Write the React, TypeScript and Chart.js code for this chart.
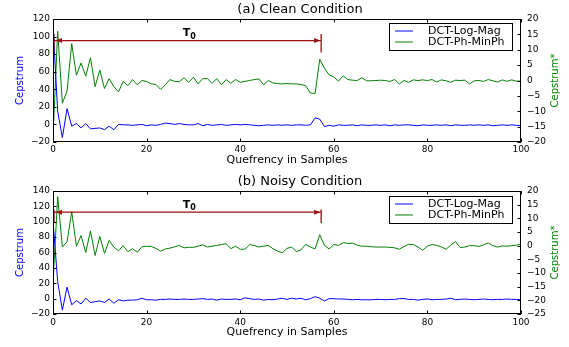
import React, { useEffect, useRef } from 'react';
import { Chart, registerables } from 'chart.js';

Chart.register(...registerables);

// ---------------- data ----------------
const quefrency = Array.from({ length: 101 }, (_, i) => i);
const xTicks = [0, 20, 40, 60, 80, 100];
const seriesNames = ['DCT-Log-Mag', 'DCT-Ph-MinPh'];
const panelTitles = ['(a) Clean Condition', '(b) Noisy Condition'];
const xLabel = 'Quefrency in Samples';
const leftLabel = 'Cepstrum';
const rightLabel = 'Cepstrum*';
const t0Sample = 57.3;

// (a) clean — left axis (Cepstrum)
const cleanLogMag = [
  112, 15, -15, 18, -2, 1, -4, 1, -5, -4.5,
  -4, -6, -2, -6, 0, -0.5, -0.5, -1, -0.5, 0,
  -1.5, -0.5, -1, 0, 1.5, 1, 0, 1, 0, -0.5,
  -0.5, 1, -1.5, 0, -1, -0.5, 0, -1, -0.5, 0,
  -0.5, 0, -0.5, -1, -1.5, -1, -0.5, -1, -0.5, -1,
  -0.5, -1, -0.5, -0.5, -1, -0.5, 7.5, 6, -2.5, -1,
  -2, -0.5, -1, -1, -0.5, -1.5, -0.5, -1, -1, -0.5,
  -1, -0.5, -1.5, -0.5, -1, -0.5, -0.5, -1, -1.5, -0.5,
  -1, -1, -0.5, -1, -0.5, -1.5, -0.5, -1, -1, -0.5,
  -1, -0.5, -1, -0.5, -1.5, -1, -0.5, -1, -0.5, -1,
  -1.5,
];
// (a) clean — right axis (Cepstrum*)
const cleanMinPh = [
  -18.5, 16, -7.4, -3.4, 12, 1.7, 5.7, 1.4, 7.4, -2,
  3.4, -2.6, 0.6, -2, -3.7, -0.3, -1.7, 0.3, -1.4, 0,
  -0.3, -1.1, -1.3, -2.9, -1.4, 0.3, -0.3, -0.4, 0.9, -0.6,
  1.1, -1.1, 0.6, 0.6, -0.9, 0.6, -1.4, 0.3, -0.9, 0.3,
  -0.6, -0.3, 0, 0.3, 0.5, -1.4, 0, -0.8, -1, -1.1,
  -1, -1.1, -1.1, -1.3, -1.7, -4.1, -4.2, 6.9, 4, 1.8,
  1.2, -0.2, 1.5, 0.3, 0.1, 0, 0.9, -0.1, -0.1, 0,
  0.1, 0, -0.3, 0.3, -1.1, 0, -0.6, 0.2, 0, 0.2,
  0, 0.3, -0.5, 0.2, -0.1, -0.6, 0.1, 0, 0.1, -1.1,
  -0.1, 0, -0.3, 0.3, -0.1, -0.5, 0.2, -0.3, 0.2, -0.2,
  -0.2,
];
// (b) noisy — left axis (Cepstrum)
const noisyLogMag = [
  102, 22, -15, 15, -8, -2.5, -7, 0.5, -5, -4,
  -3, -5, -0.5, -6, -1.5, -3, -2, -2, -1.5, 0.5,
  -1.5, -1.5, -2, -1, -1, -0.5, -1, -1, -0.5, -1,
  -1, -0.5, 0, -1, -0.5, -2, -0.5, -1, -1, -0.5,
  -1.5, 1, 0, -1, -0.5, -2, -1, -1.5, -0.5, 0.5,
  -1, 0.5, -0.5, 0.5, -1.5, 0, 2.5, 0.5, -3, 0,
  0, -0.5, -0.5, -1, -1.5, -1, -1.5, -1.5, -1.5, -1,
  -1, -1.5, -1, -1, 0, 0, -1, -1, -2, -1,
  -0.5, -1.5, -1, -1, -0.5, 0.5, -1.5, -1, -0.5, -1,
  -1.5, -1, -0.5, -1, -1.5, -1, -1, -0.5, -1, -1,
  -1.5,
];
// (b) noisy — right axis (Cepstrum*)
const noisyMinPh = [
  -14, 18, -0.5, 1.4, 12.4, -0.2, 3.7, -2.5, 5.4, -3.6,
  3.4, -2.8, 1.9, -0.5, -1.9, 0, -2.2, -1.1, -2.4, -0.4,
  -0.2, -0.3, -1, -2, -1.2, -0.9, -0.4, 0.1, -0.8, -0.6,
  -0.6, -0.2, 0.3, -0.5, -0.2, 0.1, 0.4, 0.7, -1.1, -0.2,
  -1.3, -1.3, 0.35, 0.1, -0.5, -0.2, 0.1, -1.1, -2, -2.6,
  -1, -0.5, -2.2, -1.5, 0.5, -0.5, -1.2, 4, 0.1, -1.2,
  0.4, 0.1, 1.1, 0.8, 0.9, 0.2, -0.2, -0.2, -0.4, -0.5,
  -0.5, -0.5, -0.6, -0.8, -1.3, -0.3, 0.5, 0.4, -0.5, -1.7,
  -0.2, 0.4, 0.1, -0.5, -1.3, 0.2, 1.5, -0.7, -0.5, 0,
  0, -0.3, 0.3, 1, 0, -0.5, -0.1, -0.2, 0, 0.2,
  0.5,
];

// ---------------- layout / style ----------------
const FONT = '"DejaVu Sans"';
const BLUE = '#0000ff';
const GREEN = '#008000';
const RED = '#9a1010';
const W = 569;

type Panel = {
  title: string;
  logMag: number[];
  minPh: number[];
  leftMin: number; leftMax: number; leftStep: number;
  rightMin: number; rightMax: number; rightStep: number;
  top: number; height: number;
  areaTop: number; areaBottom: number;
  titleY: number; xLabelY: number; legendTop: number;
  t0Level: number; t0Bar: [number, number];
  xTickPad: number;
};

const panels: Panel[] = [
  {
    title: panelTitles[0], logMag: cleanLogMag, minPh: cleanMinPh,
    leftMin: -20, leftMax: 120, leftStep: 20,
    rightMin: -20, rightMax: 20, rightStep: 5,
    top: 0, height: 173, areaTop: 19, areaBottom: 142,
    titleY: 10, xLabelY: 160, legendTop: 23,
    t0Level: 95.5, t0Bar: [82, 103], xTickPad: 2,
  },
  {
    title: panelTitles[1], logMag: noisyLogMag, minPh: noisyMinPh,
    leftMin: -20, leftMax: 140, leftStep: 20,
    rightMin: -25, rightMax: 20, rightStep: 5,
    top: 173, height: 174, areaTop: 18, areaBottom: 141,
    titleY: 9, xLabelY: 159, legendTop: 23,
    t0Level: 112.5, t0Bar: [98, 116], xTickPad: 3,
  },
];

const fmt = (v: number | string) => {
  const n = Number(v);
  return n < 0 ? '\u2212' + String(Math.abs(n)) : String(n);
};

function decorPlugin(p: Panel) {
  return {
    id: 'decor',
    afterDatasetsDraw(chart: any) {
      const ctx: CanvasRenderingContext2D = chart.ctx;
      const a = chart.chartArea;
      const xs = chart.scales.x;
      const yl = chart.scales.y;
      const yr = chart.scales.y1;
      ctx.save();

      // T0 annotation
      const ly = yl.getPixelForValue(p.t0Level);
      const x0 = xs.getPixelForValue(0) + 1;
      const x1 = xs.getPixelForValue(t0Sample);
      ctx.strokeStyle = RED;
      ctx.fillStyle = RED;
      ctx.lineWidth = 1.3;
      ctx.beginPath();
      ctx.moveTo(x0, ly); ctx.lineTo(x1, ly);
      ctx.moveTo(x0, yl.getPixelForValue(p.t0Bar[0]));
      ctx.lineTo(x0, yl.getPixelForValue(p.t0Bar[1]));
      ctx.moveTo(x1, yl.getPixelForValue(p.t0Bar[0]));
      ctx.lineTo(x1, yl.getPixelForValue(p.t0Bar[1]));
      ctx.stroke();
      // arrow heads
      ctx.beginPath();
      ctx.moveTo(x1 - 1, ly); ctx.lineTo(x1 - 7, ly - 2.5); ctx.lineTo(x1 - 7, ly + 2.5); ctx.closePath();
      ctx.moveTo(x0 + 2, ly); ctx.lineTo(x0 + 8, ly - 2.5); ctx.lineTo(x0 + 8, ly + 2.5); ctx.closePath();
      ctx.fill();
      // T0 label
      const tx = xs.getPixelForValue(29) - 6;
      ctx.fillStyle = '#000';
      ctx.textAlign = 'left';
      ctx.textBaseline = 'alphabetic';
      ctx.font = `bold 11px ${FONT}`;
      ctx.fillText('T', tx, ly - 4.5);
      const tw = ctx.measureText('T').width;
      ctx.font = `bold 8px ${FONT}`;
      ctx.fillText('0', tx + tw, ly - 2);

      // frame
      ctx.strokeStyle = '#000';
      ctx.lineWidth = 1;
      ctx.strokeRect(Math.round(a.left) + 0.5, Math.round(a.top) + 0.5,
        Math.round(a.right - a.left) - 1, Math.round(a.bottom - a.top) - 1);

      // inward ticks
      const TL = 3.5;
      ctx.beginPath();
      xs.ticks.forEach((t: any) => {
        const px = Math.round(xs.getPixelForValue(t.value)) + 0.5;
        ctx.moveTo(px, a.bottom); ctx.lineTo(px, a.bottom - TL);
        ctx.moveTo(px, a.top); ctx.lineTo(px, a.top + TL);
      });
      yl.ticks.forEach((t: any) => {
        const py = Math.round(yl.getPixelForValue(t.value)) + 0.5;
        ctx.moveTo(a.left, py); ctx.lineTo(a.left + TL, py);
      });
      yr.ticks.forEach((t: any) => {
        const py = Math.round(yr.getPixelForValue(t.value)) + 0.5;
        ctx.moveTo(a.right, py); ctx.lineTo(a.right - TL, py);
      });
      ctx.stroke();

      // title
      ctx.fillStyle = '#000';
      ctx.textAlign = 'center';
      ctx.textBaseline = 'middle';
      ctx.font = `13px ${FONT}`;
      ctx.fillText(p.title, 300, p.titleY);
      // x label
      ctx.font = `11px ${FONT}`;
      ctx.fillText(xLabel, (a.left + a.right) / 2, p.xLabelY);
      // y labels
      const midY = (a.top + a.bottom) / 2;
      ctx.font = `10px ${FONT}`;
      ctx.save();
      ctx.translate(20, midY);
      ctx.rotate(-Math.PI / 2);
      ctx.fillStyle = BLUE;
      ctx.fillText(leftLabel, 0, 0);
      ctx.restore();
      ctx.save();
      ctx.translate(555, midY);
      ctx.rotate(-Math.PI / 2);
      ctx.fillStyle = GREEN;
      ctx.fillText(rightLabel, 0, 0);
      ctx.restore();

      // legend
      const lx = 389.5, lw = 123, lh = 27, lt = p.legendTop + 0.5;
      ctx.fillStyle = '#fff';
      ctx.fillRect(lx, lt, lw, lh);
      ctx.strokeStyle = '#000';
      ctx.lineWidth = 1;
      ctx.strokeRect(lx, lt, lw, lh);
      const rows = [
        { name: seriesNames[0], color: BLUE, y: lt + 7.5 },
        { name: seriesNames[1], color: GREEN, y: lt + 18.5 },
      ];
      ctx.font = `11px ${FONT}`;
      ctx.textAlign = 'left';
      rows.forEach((r) => {
        ctx.strokeStyle = r.color;
        ctx.beginPath();
        ctx.moveTo(395, r.y); ctx.lineTo(413, r.y);
        ctx.stroke();
        ctx.fillStyle = '#000';
        ctx.fillText(r.name, 428, r.y);
      });

      ctx.restore();
    },
  };
}

function PanelChart({ p }: { p: Panel }) {
  const ref = useRef<HTMLCanvasElement | null>(null);
  useEffect(() => {
    if (!ref.current) return;
    const chart = new Chart(ref.current, {
      type: 'line',
      data: {
        datasets: [
          {
            label: seriesNames[0],
            data: p.logMag.map((v, i) => ({ x: quefrency[i], y: v })),
            borderColor: BLUE, borderWidth: 1, pointRadius: 0, tension: 0,
            yAxisID: 'y', fill: false,
          },
          {
            label: seriesNames[1],
            data: p.minPh.map((v, i) => ({ x: quefrency[i], y: v })),
            borderColor: GREEN, borderWidth: 1, pointRadius: 0, tension: 0,
            yAxisID: 'y1', fill: false,
          },
        ],
      },
      options: {
        animation: false,
        responsive: true,
        maintainAspectRatio: false,
        events: [],
        layout: { padding: { top: p.areaTop, left: 0, right: 0, bottom: 0 } },
        plugins: {
          legend: { display: false },
          title: { display: false },
          tooltip: { enabled: false },
        },
        scales: {
          x: {
            type: 'linear', position: 'bottom', min: 0, max: 100,
            afterBuildTicks: (s: any) => { s.ticks = xTicks.map((v) => ({ value: v })); },
            afterFit: (s: any) => { s.height = p.height - p.areaBottom; },
            ticks: {
              font: { family: FONT, size: 9 }, color: '#000', padding: p.xTickPad,
              maxRotation: 0, autoSkip: false, callback: (v: any) => fmt(v),
            },
            grid: { display: false, drawTicks: false },
            border: { display: false },
          },
          y: {
            type: 'linear', position: 'left', min: p.leftMin, max: p.leftMax,
            afterFit: (s: any) => { s.width = 53; },
            ticks: {
              stepSize: p.leftStep, font: { family: FONT, size: 9 }, color: '#000',
              padding: 3, autoSkip: false, callback: (v: any) => fmt(v),
            },
            grid: { display: false, drawTicks: false },
            border: { display: false },
          },
          y1: {
            type: 'linear', position: 'right', min: p.rightMin, max: p.rightMax,
            afterFit: (s: any) => { s.width = W - 521; },
            ticks: {
              stepSize: p.rightStep, font: { family: FONT, size: 9 }, color: '#000',
              padding: 6, autoSkip: false, callback: (v: any) => fmt(v),
            },
            grid: { display: false, drawTicks: false },
            border: { display: false },
          },
        },
      },
      plugins: [decorPlugin(p)],
    } as any);
    return () => chart.destroy();
  }, [p]);
  return (
    <div style={{ position: 'absolute', left: 0, top: p.top, width: W, height: p.height }}>
      <canvas ref={ref} />
    </div>
  );
}

export default function App() {
  return (
    <div style={{ position: 'fixed', left: 0, top: 0, width: W, height: 347, background: '#fff' }}>
      {panels.map((p, i) => <PanelChart key={i} p={p} />)}
    </div>
  );
}
